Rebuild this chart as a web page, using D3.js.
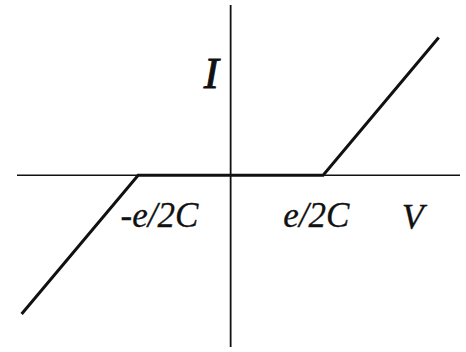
<!DOCTYPE html>
<html>
<head>
<meta charset="utf-8">
<script src="https://cdn.jsdelivr.net/npm/d3@7"></script>
<style>
  html, body { margin: 0; padding: 0; background: #fff; }
  svg text { font-family: "Liberation Serif", "Times New Roman", serif; font-style: italic; fill: #111; }
</style>
</head>
<body>
<svg id="chart" width="466" height="352"></svg>
<script>
// Coulomb blockade I–V characteristic, voltage in units of e/2C
const voltage = [-2.26, -1, 1, 2.25];
const current = [-1.26, 0, 0, 1.25];

// Axis extents (same units)
const vRange = [-2.31, 2.48];
const iRange = [-1.56, 1.545];

// Text labels placed at data positions
const labels = [
  { text: "I",      v: -0.29, i: 0.79,  size: 45, weight: 0.9 },
  { text: "-e/2C",  v: -1.19, i: -0.47, size: 35, weight: 0.3 },
  { text: "e/2C",   v: 0.57,  i: -0.47, size: 35, weight: 0.3 },
  { text: "V",      v: 1.85,  i: -0.49, size: 36, weight: 0.3 }
];

const svg = d3.select("#chart");
const x = d3.scaleLinear().domain(vRange).range([17, 460]);
const y = d3.scaleLinear().domain(iRange).range([347, 5]);

// Axes through the origin
svg.append("line")
  .attr("x1", x(vRange[0])).attr("x2", x(vRange[1]))
  .attr("y1", y(0)).attr("y2", y(0))
  .attr("stroke", "#111").attr("stroke-width", 1.5);
svg.append("line")
  .attr("x1", x(0)).attr("x2", x(0))
  .attr("y1", y(iRange[0])).attr("y2", y(iRange[1]))
  .attr("stroke", "#111").attr("stroke-width", 1.8);

// I–V curve
const line = d3.line().x((d, k) => x(voltage[k])).y((d, k) => y(current[k]));
svg.append("path")
  .datum(voltage)
  .attr("d", line)
  .attr("fill", "none")
  .attr("stroke", "#111")
  .attr("stroke-width", 3)
  .attr("stroke-linejoin", "miter");

svg.selectAll("text.lbl")
  .data(labels)
  .join("text")
  .attr("class", "lbl")
  .attr("x", d => x(d.v))
  .attr("y", d => y(d.i))
  .attr("font-size", d => d.size)
  .attr("stroke", "#111")
  .attr("stroke-width", d => d.weight)
  .text(d => d.text);
</script>
</body>
</html>
